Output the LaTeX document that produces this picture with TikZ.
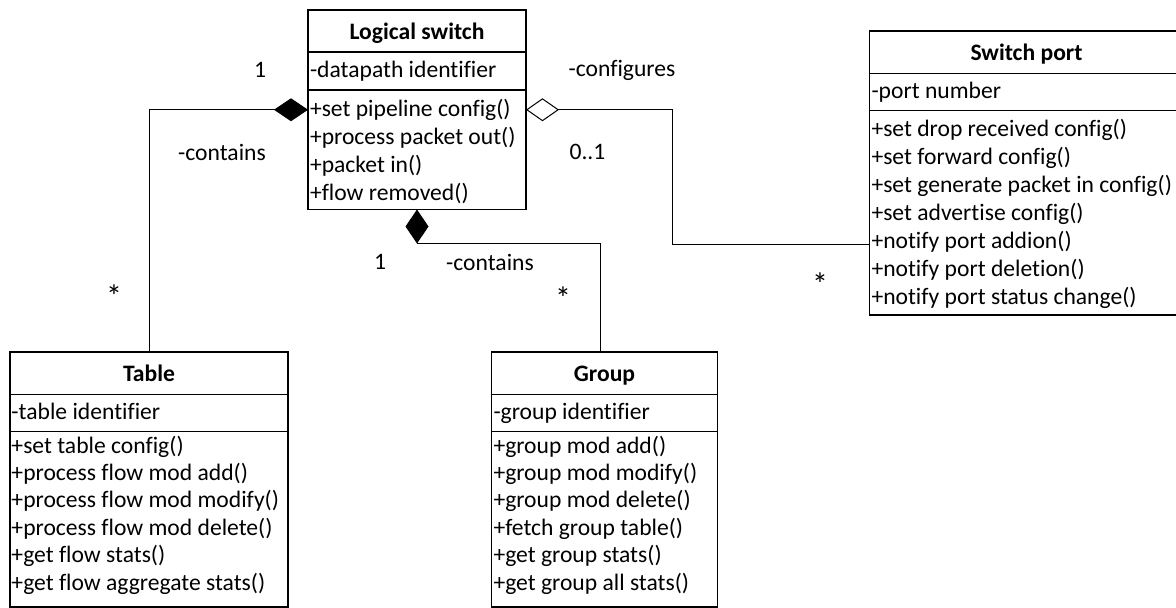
\documentclass[tikz,border=0pt]{standalone}
\usepackage{fontspec}
\setmainfont{Carlito}[Ligatures={NoCommon}]
\usetikzlibrary{arrows.meta}
\begin{document}
\begin{tikzpicture}[x=1pt,y=-1pt,
  box/.style={draw, line width=1.5pt, inner sep=0pt, outer sep=0pt},
  divider/.style={line width=1.5pt},
  txt/.style={inner sep=0pt, outer sep=0pt, anchor=base west, font=\fontsize{23.6}{28}\selectfont},
  ttl/.style={inner sep=0pt, outer sep=0pt, anchor=base, font=\fontsize{23.6}{28}\selectfont\bfseries},
  lbl/.style={inner sep=0pt, outer sep=0pt, font=\fontsize{23.6}{28}\selectfont},
  star/.style={inner sep=0pt, outer sep=0pt, font=\fontsize{32}{32}\selectfont},
  conn/.style={draw, line width=1pt},
  comp/.style={{Diamond[length=34pt,width=23pt]}-},
  aggr/.style={{Diamond[open,length=33pt,width=23pt]}-}]
\useasboundingbox (0,0) rectangle (1176,608);
\clip (0,0) rectangle (1176,608);

% Logical switch
\node[box, anchor=north west, minimum width=218pt, minimum height=199.5pt] (ls) at (308,10) {};
\draw[divider] (308,52) -- (526,52);
\draw[divider] (308,90) -- (526,90);
\node[ttl] (ls-t) at (417,39) {Logical switch};
\node[txt] (ls-a) at (310,77) {-datapath identifier};
\foreach \m [count=\i] in {+set pipeline config(),+process packet out(),+packet in(),+flow removed()}
  \node[txt] (ls-m\i) at (310,{116.5+28*(\i-1)}) {\m};

% Switch port
\node[box, anchor=north west, minimum width=314pt, minimum height=284pt] (sp) at (869.5,31) {};
\draw[divider] (869.5,73.3) -- (1183.5,73.3);
\draw[divider] (869.5,110.7) -- (1183.5,110.7);
\node[ttl] (sp-t) at (1026.5,60) {Switch port};
\node[txt] (sp-a) at (871.5,98) {-port number};
\foreach \m [count=\i] in {+set drop received config(),+set forward config(),+set generate packet in config(),+set advertise config(),+notify port addion(),+notify port deletion(),+notify port status change()}
  \node[txt] (sp-m\i) at (871.5,{136.5+28*(\i-1)}) {\m};

% Table
\node[box, anchor=north west, minimum width=278pt, minimum height=255pt] (tab) at (10,352) {};
\draw[divider] (10,394.3) -- (288,394.3);
\draw[divider] (10,431.7) -- (288,431.7);
\node[ttl] (tab-t) at (149,381) {Table};
\node[txt] (tab-a) at (11.5,419) {-table identifier};
\foreach \m [count=\i] in {+set table config(),+process flow mod add(),+process flow mod modify(),+process flow mod delete(),+get flow stats(),+get flow aggregate stats()}
  \node[txt] (tab-m\i) at (11.5,{453+27.4*(\i-1)}) {\m};

% Group
\node[box, anchor=north west, minimum width=225.6pt, minimum height=255pt] (grp) at (491.7,352) {};
\draw[divider] (491.7,394.3) -- (717.3,394.3);
\draw[divider] (491.7,431.7) -- (717.3,431.7);
\node[ttl] (grp-t) at (604.5,381) {Group};
\node[txt] (grp-a) at (493.5,419) {-group identifier};
\foreach \m [count=\i] in {+group mod add(),+group mod modify(),+group mod delete(),+fetch group table(),+get group stats(),+get group all stats()}
  \node[txt] (grp-m\i) at (493.5,{453+27.4*(\i-1)}) {\m};

% Connectors
\draw[conn, comp] (ls.west) -| (tab.north);
\draw[conn, aggr] (ls.east) -- ++(146,0) |- ([yshift=-71pt]sp.west);
\draw[conn, comp] (ls.south) -- ++(0,33.5) -| ([xshift=-4.5pt]grp.north);

% Labels
\node[lbl] (m1) at (260,70) {1};
\node[lbl] (r1) at (222,152) {-contains};
\node[star] (s1) at (114,296) {*};
\node[lbl] (r2) at (622,70) {-configures};
\node[lbl] (m2) at (587.5,152) {0..1};
\node[star] (s2) at (820,284) {*};
\node[lbl] (m3) at (380,262) {1};
\node[lbl] (r3) at (490,262) {-contains};
\node[star] (s3) at (563,298) {*};
\end{tikzpicture}
\end{document}
